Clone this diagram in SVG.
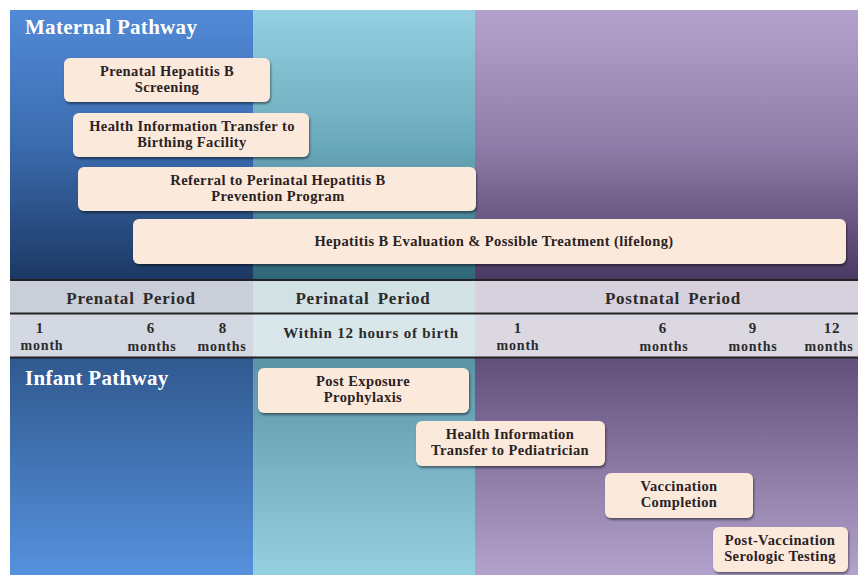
<svg xmlns="http://www.w3.org/2000/svg" width="858" height="575" viewBox="0 0 858 575">
<defs>
<linearGradient id="gBlueTop" gradientUnits="userSpaceOnUse" x1="0" y1="10" x2="0" y2="280">
<stop offset="0" stop-color="#528ad7"/><stop offset="0.5" stop-color="#3b6bae"/><stop offset="1" stop-color="#1c3863"/></linearGradient>
<linearGradient id="gTealTop" gradientUnits="userSpaceOnUse" x1="0" y1="10" x2="0" y2="280">
<stop offset="0" stop-color="#94d0e1"/><stop offset="0.5" stop-color="#6aa9bb"/><stop offset="1" stop-color="#2d6676"/></linearGradient>
<linearGradient id="gPurpTop" gradientUnits="userSpaceOnUse" x1="0" y1="10" x2="0" y2="280">
<stop offset="0" stop-color="#b3a3cc"/><stop offset="0.5" stop-color="#8f7da9"/><stop offset="1" stop-color="#4a3a62"/></linearGradient>
<linearGradient id="gBlueBot" gradientUnits="userSpaceOnUse" x1="0" y1="359" x2="0" y2="575">
<stop offset="0" stop-color="#30598f"/><stop offset="1" stop-color="#5691dd"/></linearGradient>
<linearGradient id="gTealBot" gradientUnits="userSpaceOnUse" x1="0" y1="359" x2="0" y2="575">
<stop offset="0" stop-color="#5a94a6"/><stop offset="1" stop-color="#95d0e1"/></linearGradient>
<linearGradient id="gPurpBot" gradientUnits="userSpaceOnUse" x1="0" y1="359" x2="0" y2="575">
<stop offset="0" stop-color="#62507c"/><stop offset="1" stop-color="#b3a3cc"/></linearGradient>
<filter id="sh" x="-5%" y="-20%" width="110%" height="150%">
<feDropShadow dx="1" dy="2" stdDeviation="1.2" flood-color="#000" flood-opacity="0.45"/></filter>
</defs>
<style>
.box{fill:#fbe9dc;filter:url(#sh)}
.bt{font-family:"Liberation Serif",serif;font-weight:bold;font-size:14.5px;letter-spacing:0.4px;fill:#2a2222;text-anchor:middle}
.title{font-family:"Liberation Serif",serif;font-weight:bold;font-size:21px;letter-spacing:0.3px;fill:#ffffff}
.per{font-family:"Liberation Serif",serif;font-weight:bold;font-size:17px;letter-spacing:0.8px;fill:#2b2b2b;text-anchor:middle;word-spacing:3px}
.num{font-family:"Liberation Serif",serif;font-weight:bold;font-size:15px;letter-spacing:0.8px;fill:#2b2b2b;text-anchor:middle}
.unit{font-family:"Liberation Serif",serif;font-weight:bold;font-size:14px;letter-spacing:0.8px;fill:#2b2b2b;text-anchor:middle}
.rule{stroke:#222;stroke-width:2}
</style>
<rect width="858" height="575" fill="#ffffff"/>
<g id="background">
<rect x="10" y="10" width="243" height="271" fill="url(#gBlueTop)"/>
<rect x="253" y="10" width="222" height="271" fill="url(#gTealTop)"/>
<rect x="475" y="10" width="383" height="271" fill="url(#gPurpTop)"/>
<rect x="10" y="358" width="243" height="217" fill="url(#gBlueBot)"/>
<rect x="253" y="358" width="222" height="217" fill="url(#gTealBot)"/>
<rect x="475" y="358" width="383" height="217" fill="url(#gPurpBot)"/>
<rect x="10" y="281" width="243" height="32" fill="#c9ced9"/>
<rect x="253" y="281" width="222" height="32" fill="#d2e1e4"/>
<rect x="475" y="281" width="383" height="32" fill="#d6d1dc"/>
<rect x="10" y="314" width="243" height="43" fill="#d3d8e2"/>
<rect x="253" y="314" width="222" height="43" fill="#d9e7ea"/>
<rect x="475" y="314" width="383" height="43" fill="#dcd8e2"/>
<line class="rule" x1="10" y1="280" x2="858" y2="280" stroke="#1f2530"/>
<line class="rule" x1="10" y1="313.5" x2="858" y2="313.5"/>
<line class="rule" x1="10" y1="357.5" x2="858" y2="357.5" stroke="#3a3a44"/>
</g>
<g id="titles">
<text class="title" x="25" y="34">Maternal Pathway</text>
<text class="title" x="25" y="385">Infant Pathway</text>
</g>
<g id="periods">
<text class="per" x="131" y="304">Prenatal Period</text>
<text class="per" x="363" y="304">Perinatal Period</text>
<text class="per" x="673" y="304">Postnatal Period</text>
</g>
<g id="timeline">
<text class="num" x="40" y="333">1</text><text class="unit" x="42" y="350">month</text>
<text class="num" x="151" y="333">6</text><text class="unit" x="152" y="351">months</text>
<text class="num" x="223" y="333">8</text><text class="unit" x="222" y="351">months</text>
<text class="num" x="371" y="338">Within 12 hours of birth</text>
<text class="num" x="518" y="333">1</text><text class="unit" x="518" y="350">month</text>
<text class="num" x="663" y="333">6</text><text class="unit" x="664" y="351">months</text>
<text class="num" x="753" y="333">9</text><text class="unit" x="753" y="351">months</text>
<text class="num" x="832" y="333">12</text><text class="unit" x="829" y="351">months</text>
</g>
<g id="m1"><rect class="box" x="64" y="58" width="206" height="44" rx="6"/>
<text class="bt" x="167" y="76">Prenatal Hepatitis B</text><text class="bt" x="167" y="92">Screening</text></g>
<g id="m2"><rect class="box" x="73" y="113" width="236" height="44" rx="6"/>
<text class="bt" x="192" y="131">Health Information Transfer to</text><text class="bt" x="192" y="147">Birthing Facility</text></g>
<g id="m3"><rect class="box" x="78" y="167" width="398" height="44" rx="6"/>
<text class="bt" x="278" y="185">Referral to Perinatal Hepatitis B</text><text class="bt" x="278" y="201">Prevention Program</text></g>
<g id="m4"><rect class="box" x="133" y="219" width="713" height="45" rx="6"/>
<text class="bt" x="494" y="246">Hepatitis B Evaluation &amp; Possible Treatment (lifelong)</text></g>
<g id="i1"><rect class="box" x="258" y="368" width="211" height="45" rx="6"/>
<text class="bt" x="363" y="386">Post Exposure</text><text class="bt" x="363" y="402">Prophylaxis</text></g>
<g id="i2"><rect class="box" x="416" y="421" width="189" height="45" rx="6"/>
<text class="bt" x="510" y="439">Health Information</text><text class="bt" x="510" y="455">Transfer to Pediatrician</text></g>
<g id="i3"><rect class="box" x="605" y="473" width="148" height="45" rx="6"/>
<text class="bt" x="679" y="491">Vaccination</text><text class="bt" x="679" y="507">Completion</text></g>
<g id="i4"><rect class="box" x="713" y="527" width="135" height="45" rx="6"/>
<text class="bt" x="780" y="545">Post-Vaccination</text><text class="bt" x="780" y="561">Serologic Testing</text></g>
</svg>
